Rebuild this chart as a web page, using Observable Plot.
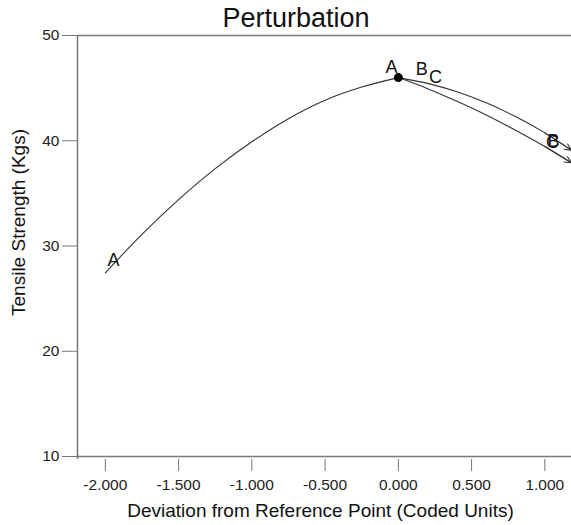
<!DOCTYPE html>
<html><head><meta charset="utf-8">
<script src="https://cdn.jsdelivr.net/npm/d3@7"></script>
<script src="https://cdn.jsdelivr.net/npm/@observablehq/plot@0.6"></script>
<style>html,body{margin:0;padding:0;background:#fff}svg{display:block}</style>
</head><body><div id="chart"></div>
<script>
const title = "Perturbation";
const xLabel = "Deviation from Reference Point (Coded Units)";
const yLabel = "Tensile Strength (Kgs)";
const xTicks = [-2, -1.5, -1, -0.5, 0, 0.5, 1];
const yTicks = [10, 20, 30, 40, 50];
const xDomain = [-2.19, 1.182];
const yDomain = [10, 50];

// Factor curves
const aX = [-2.0, -1.75, -1.5, -1.25, -1.0, -0.75, -0.5, -0.25, 0];
const aY = [27.45, 31.1, 34.4, 37.35, 39.9, 42.1, 43.85, 45.1, 46.0];
const bX = [0, 0.2, 0.4, 0.6, 0.8, 1.0, 1.182];
const bY = [46.0, 45.45, 44.65, 43.6, 42.3, 40.75, 39.1];
const cX = [0, 0.2, 0.4, 0.6, 0.8, 1.0, 1.182];
const cY = [46.0, 44.95, 43.75, 42.45, 41.0, 39.45, 37.9];

// Reference point
const refX = [0];
const refY = [46.0];

// Curve letter labels
const labelText = ["A", "A", "B", "C", "B", "C"];
const labelX = [-1.944, -0.046, 0.159, 0.254, 1.059, 1.052];
const labelY = [28.62, 46.98, 46.79, 46.03, 39.94, 39.9];

const series = [
  {name: "A", xs: aX, ys: aY, arrow: false},
  {name: "B", xs: bX, ys: bY, arrow: true},
  {name: "C", xs: cX, ys: cY, arrow: true}
];
const rows = series.flatMap(s => s.xs.map((x, i) => ({series: s.name, x, y: s.ys[i]})));
const arrows = series.filter(s => s.arrow).map(s => {
  const n = s.xs.length;
  return {x1: s.xs[n - 2], y1: s.ys[n - 2], x2: s.xs[n - 1], y2: s.ys[n - 1]};
});
const refPts = refX.map((x, i) => ({x, y: refY[i]}));
const labels = labelText.map((t, i) => ({t, x: labelX[i], y: labelY[i]}));
const fmt = d => d.toFixed(3);

const chart = Plot.plot({
  width: 571, height: 525,
  marginLeft: 77, marginRight: 0, marginTop: 35, marginBottom: 66,
  insetBottom: 3,
  style: {fontFamily: "'Liberation Sans', Arial, sans-serif", background: "#fff", overflow: "visible"},
  x: {domain: xDomain},
  y: {domain: yDomain},
  marks: [
    Plot.axisX({ticks: xTicks, tickFormat: fmt, tickSize: 12, tickPadding: 7, fontSize: 15.5, stroke: "#777", fill: "#222", label: null}),
    Plot.axisY({ticks: yTicks, tickSize: 15, tickPadding: 3, fontSize: 15.5, stroke: "#777", fill: "#222", label: null}),
    Plot.ruleX([xDomain[0]], {stroke: "#777", strokeWidth: 1.5}),
    Plot.ruleY([yDomain[0], yDomain[1]], {stroke: "#777", strokeWidth: 1.5}),
    Plot.line(rows, {x: "x", y: "y", z: "series", curve: "catmull-rom", stroke: "#333", strokeWidth: 1.1}),
    Plot.arrow(arrows, {x1: "x1", y1: "y1", x2: "x2", y2: "y2", stroke: "#333", strokeWidth: 1.1, headLength: 10, headAngle: 50}),
    Plot.dot(refPts, {x: "x", y: "y", r: 4.5, fill: "#000"}),
    Plot.text(labels, {x: "x", y: "y", text: "t", fontSize: 18, fill: "#111", lineAnchor: "middle"}),
    Plot.text([title], {text: d => d, frameAnchor: "top", textAnchor: "middle", dx: -28.5, dy: -17.5, fontSize: 27, fill: "#111", lineAnchor: "middle"}),
    Plot.text([xLabel], {text: d => d, frameAnchor: "bottom", textAnchor: "middle", dx: -4, dy: 51, fontSize: 19, fill: "#111", lineAnchor: "middle"}),
    Plot.text([yLabel], {text: d => d, frameAnchor: "left", textAnchor: "middle", dx: -59, dy: -25, rotate: -90, fontSize: 19, fill: "#111", lineAnchor: "middle"})
  ]
});
document.getElementById("chart").appendChild(chart);
</script>
</body></html>
